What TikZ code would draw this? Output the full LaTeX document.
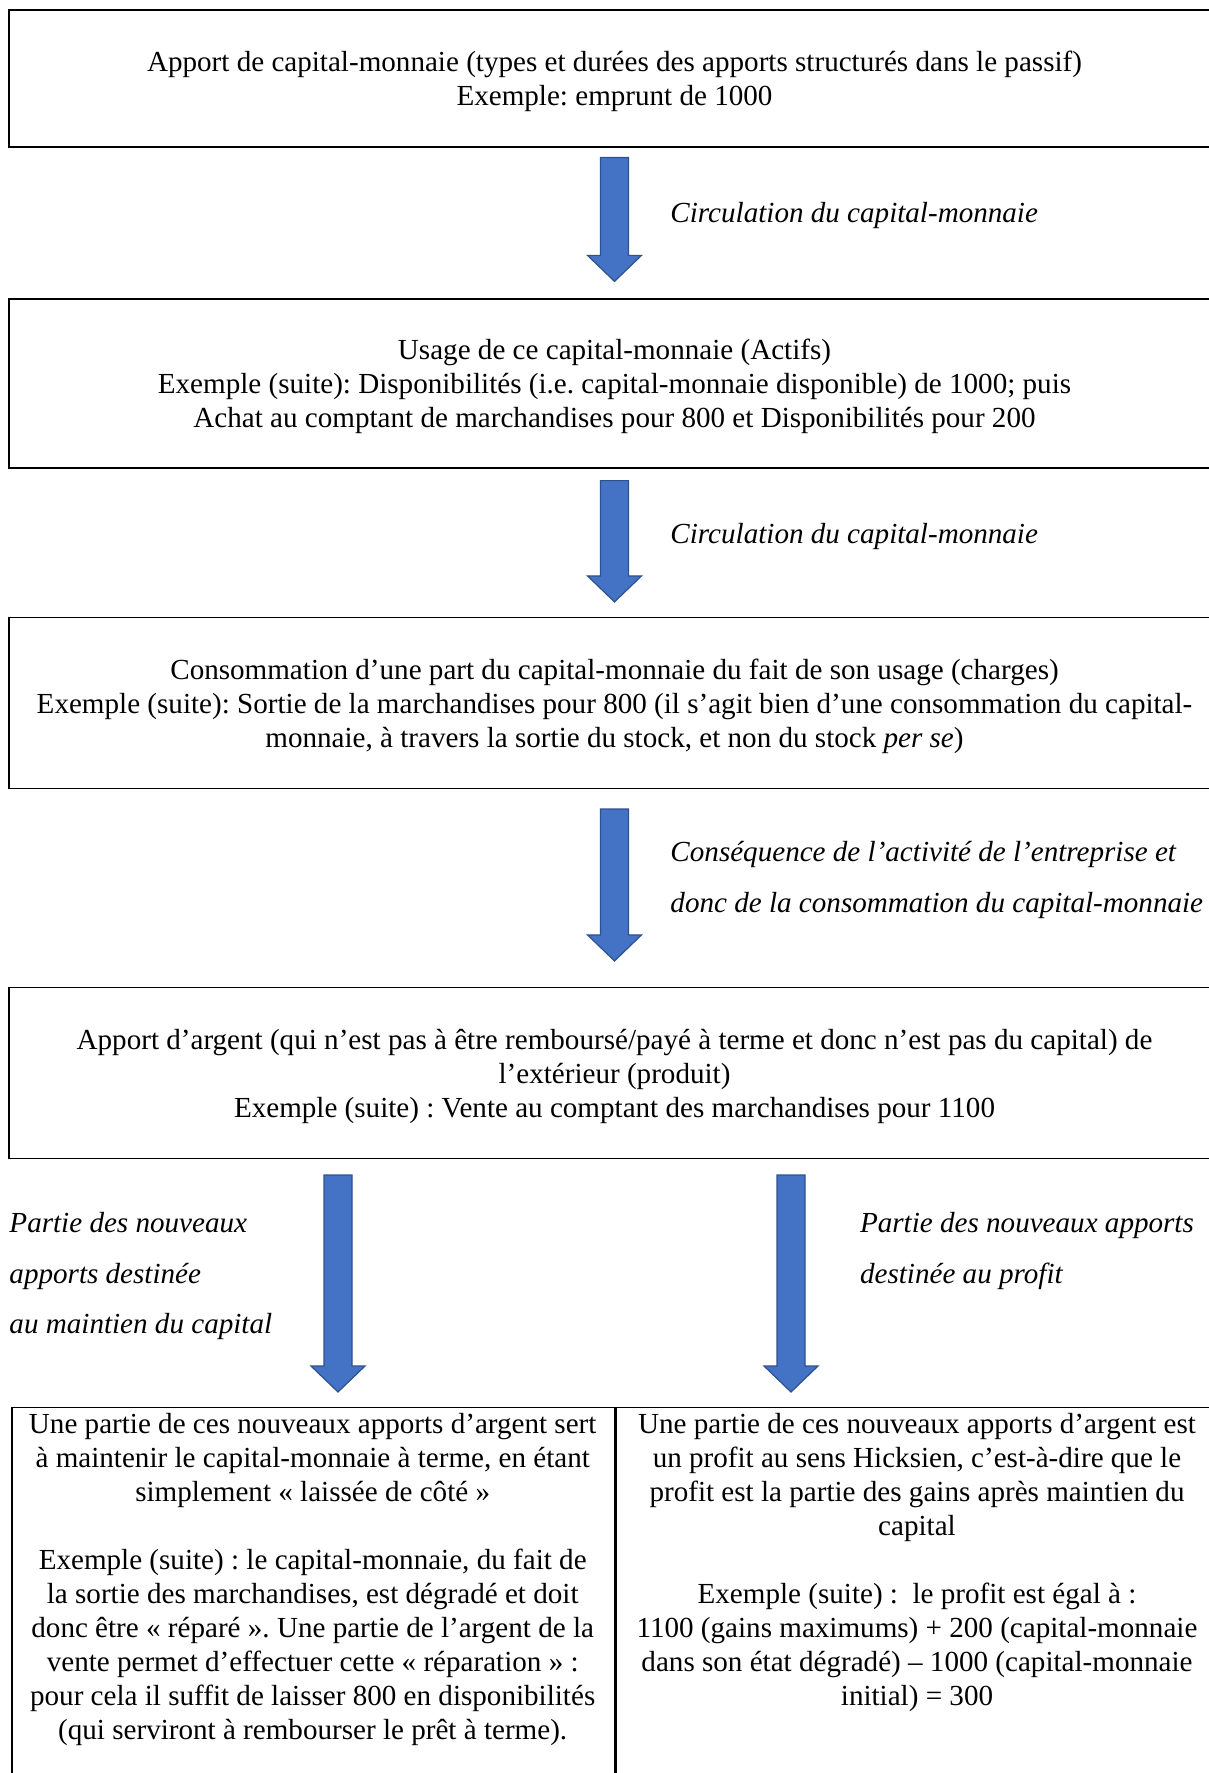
\documentclass[tikz,border=0pt]{standalone}
\usepackage{fontspec}
\setmainfont{Liberation Serif}
\frenchspacing
\usetikzlibrary{calc}
\definecolor{arrowblue}{RGB}{68,114,196}
\definecolor{arrowedge}{RGB}{47,82,143}
\tikzset{
  box/.style={draw, line width=0.5pt, minimum width=499.4pt, align=center, inner sep=0pt},
  cell/.style={draw, line width=0.5pt, anchor=north west, inner sep=0pt},
  celltext/.style={align=center, inner sep=0pt},
  flowlabel/.style={anchor=west, align=left, inner sep=0pt,
    font=\fontsize{12pt}{21pt}\selectfont\itshape},
  blockarrow/.style={fill=arrowblue, draw=arrowedge, line width=0.5pt, line join=miter}
}
% taller first line, so the text sits a little lower in its box
\newcommand{\boxstrut}{\rule{0pt}{11.1pt}}
% block arrow from #1 down to #2 (same x)
\newcommand{\blockarrow}[2]{%
  \draw[blockarrow] ($(#1)+(-14,0)$) -- ($(#2)+(-14,-26)$) -- ($(#2)+(-27,-26)$)
    -- (#2) -- ($(#2)+(27,-26)$) -- ($(#2)+(14,-26)$) -- ($(#1)+(14,0)$) -- cycle;}
\begin{document}
\begin{tikzpicture}[x=0.4124pt, y=-0.4124pt, font=\fontsize{12pt}{14pt}\selectfont]
  \useasboundingbox (0,0) rectangle (1208,1773);
  % boxes
  \node[box, minimum height=56.5pt] (apport) at (614.5,78.5)
    {\boxstrut Apport de capital-monnaie (types et durées des apports structurés dans le passif)\\
     Exemple: emprunt de 1000};
  \node[box, minimum height=69.7pt] (usage) at (614.5,383.5)
    {\boxstrut Usage de ce capital-monnaie (Actifs)\\
     Exemple (suite): Disponibilités (i.e. capital-monnaie disponible) de 1000; puis\\
     Achat au comptant de marchandises pour 800 et Disponibilités pour 200};
  \node[box, minimum height=70.5pt] (conso) at (614.5,703)
    {\boxstrut Consommation d’une part du capital-monnaie du fait de son usage (charges)\\
     Exemple (suite): Sortie de la marchandises pour 800 (il s’agit bien d’une consommation du capital-\\
     monnaie, à travers la sortie du stock, et non du stock \textit{per se})};
  \node[box, minimum height=70.5pt] (produit) at (614.5,1073)
    {\boxstrut Apport d’argent (qui n’est pas à être remboursé/payé à terme et donc n’est pas du capital) de\\
     l’extérieur (produit)\\
     Exemple (suite) : Vente au comptant des marchandises pour 1100};
  % table
  \node[cell, minimum width=248.6pt, minimum height=165pt] (maintien) at (11.3,1407) {};
  \node[cell, minimum width=250pt, minimum height=165pt] (profit) at (maintien.north east) {};
  \node[celltext] (maintientext) at (312.7,1579.5)
    {Une partie de ces nouveaux apports d’argent sert\\
     à maintenir le capital-monnaie à terme, en étant\\
     simplement « laissée de côté »\\[14pt]
     Exemple (suite) : le capital-monnaie, du fait de\\
     la sortie des marchandises, est dégradé et doit\\
     donc être « réparé ». Une partie de l’argent de la\\
     vente permet d’effectuer cette « réparation » :\\
     pour cela il suffit de laisser 800 en disponibilités\\
     (qui serviront à rembourser le prêt à terme).};
  \node[celltext] (profittext) at (917,1562.5)
    {Une partie de ces nouveaux apports d’argent est\\
     un profit au sens Hicksien, c’est-à-dire que le\\
     profit est la partie des gains après maintien du\\
     capital\\[14pt]
     Exemple (suite) :~ le profit est égal à :\\
     1100 (gains maximums) + 200 (capital-monnaie\\
     dans son état dégradé) – 1000 (capital-monnaie\\
     initial) = 300};
  % arrows
  \coordinate (a1s) at ($(apport.south)+(0,10)$);
  \coordinate (a1e) at ($(usage.north)+(0,-17)$);
  \coordinate (a2s) at ($(usage.south)+(0,12)$);
  \coordinate (a2e) at ($(conso.north)+(0,-15)$);
  \coordinate (a3s) at ($(conso.south)+(0,20)$);
  \coordinate (a3e) at ($(produit.north)+(0,-26)$);
  \coordinate (a4s) at (338,1175);
  \coordinate (a4e) at (338,1392);
  \coordinate (a5s) at (791,1175);
  \coordinate (a5e) at (791,1392);
  \blockarrow{a1s}{a1e}
  \blockarrow{a2s}{a2e}
  \blockarrow{a3s}{a3e}
  \blockarrow{a4s}{a4e}
  \blockarrow{a5s}{a5e}
  % labels
  \node[flowlabel] (circ1) at (670,216) {Circulation du capital-monnaie};
  \node[flowlabel] (circ2) at (670,536) {Circulation du capital-monnaie};
  \node[flowlabel] (consequence) at (670,880.4)
    {Conséquence de l’activité de l’entreprise et\\donc de la consommation du capital-monnaie};
  \node[flowlabel] (partmaintien) at (9,1276)
    {Partie des nouveaux\\apports destinée\\au maintien du capital};
  \node[flowlabel] (partprofit) at (859.6,1250.6)
    {Partie des nouveaux apports\\destinée au profit};
\end{tikzpicture}
\end{document}
